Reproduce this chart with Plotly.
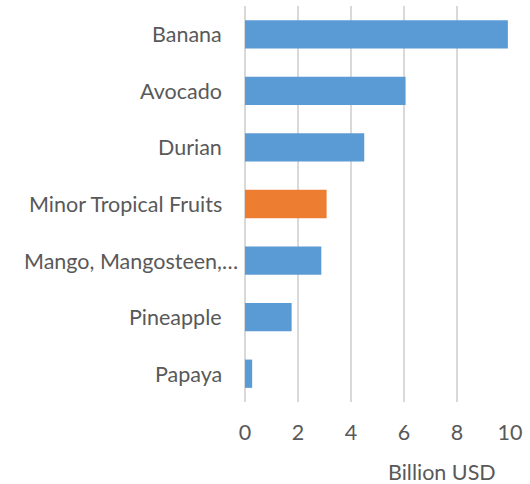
import plotly.graph_objects as go

categories = ["Banana", "Avocado", "Durian", "Minor Tropical Fruits",
              "Mango, Mangosteen,…", "Pineapple", "Papaya"]
values = [9.92, 6.06, 4.5, 3.08, 2.88, 1.76, 0.27]
bar_colors = ["#5B9BD5", "#5B9BD5", "#5B9BD5", "#ED7D31", "#5B9BD5", "#5B9BD5", "#5B9BD5"]
tick_vals = [0, 2, 4, 6, 8, 10]

FONT = "Lato, 'Open Sans', sans-serif"
GREY = "#595959"
FS = 21.5

fig = go.Figure(go.Bar(
    y=categories, x=values, orientation="h",
    marker=dict(color=bar_colors, line=dict(width=0)),
    width=0.5,
))

for c in categories:
    fig.add_annotation(
        x=0, xref="paper", y=c, yref="y", text=c, showarrow=False,
        xanchor="right", yanchor="middle",
        xshift=-5 if c.startswith("Mango") else -21,
        font=dict(family=FONT, size=FS, color=GREY),
    )

fig.add_annotation(
    x=(442 - 245) / (510 - 245), xref="paper", y=0, yref="paper",
    text="Billion USD", showarrow=False, xanchor="center", yanchor="top",
    yshift=-55,
    font=dict(family=FONT, size=FS, color=GREY),
)

fig.update_layout(
    width=530, height=484,
    margin=dict(l=245, r=20, t=6, b=82),
    paper_bgcolor="white", plot_bgcolor="white",
    showlegend=False,
    font=dict(family=FONT, size=FS, color=GREY),
    xaxis=dict(
        range=[0, 10], tickvals=tick_vals, showgrid=True,
        gridcolor="#D9D9D9", gridwidth=1.5,
        zeroline=True, zerolinecolor="#D9D9D9", zerolinewidth=1.5,
        showline=False, ticks="", ticklabelstandoff=15,
        tickfont=dict(family=FONT, size=FS, color=GREY),
    ),
    yaxis=dict(
        categoryorder="array", categoryarray=categories[::-1],
        showticklabels=False, showgrid=False, zeroline=False,
        showline=False, ticks="",
    ),
)

fig.write_html("out.html", config={"displayModeBar": False},
               post_script="document.body.style.margin='0';")
